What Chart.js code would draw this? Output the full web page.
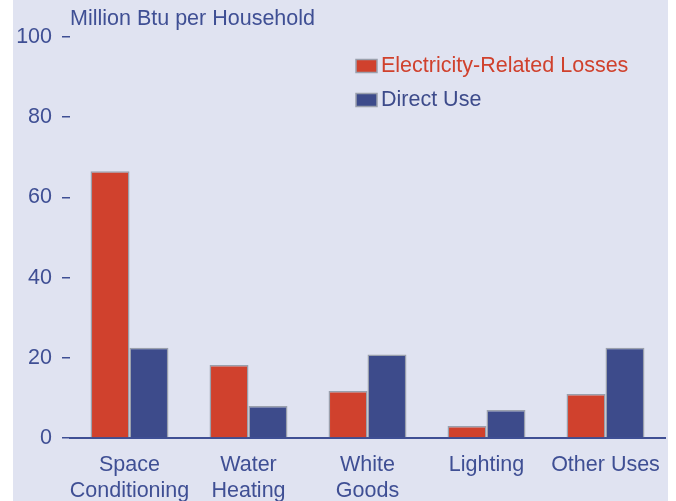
<!DOCTYPE html>
<html>
<head>
<meta charset="utf-8">
<script src="https://cdn.jsdelivr.net/npm/chart.js@4/dist/chart.umd.min.js"></script>
<style>
    html, body { margin: 0; padding: 0; background: #ffffff; }
    #wrap { width: 676px; height: 501px; position: relative; }
</style>
</head>
<body>
<div id="wrap"><canvas id="endUse"></canvas></div>
<script>
const categories = [['Space', 'Conditioning'], ['Water', 'Heating'], ['White', 'Goods'], 'Lighting', 'Other Uses'];
const lossesValues = [66.5, 18.2, 11.7, 3.0, 11.0];
const directValues = [22.5, 8.0, 20.8, 7.0, 22.5];
const seriesLabels = ['Electricity-Related Losses', 'Direct Use'];
const yTicks = [0, 20, 40, 60, 80, 100];

const red = '#d0412d';
const blue = '#3d4b8b';
const textBlue = '#3f4f94';
const edge = '#9aa0ad';
const font = { family: '"Liberation Sans", Arial, sans-serif', size: 21.5 };

// lavender panel, title and the stacked legend
const decor = {
    id: 'decor',
    beforeDraw(chart) {
        const ctx = chart.ctx;
        ctx.save();
        ctx.fillStyle = '#e0e3f1';
        ctx.fillRect(13, 0, 655, chart.height);
        ctx.restore();
    },
    afterDraw(chart) {
        const ctx = chart.ctx;
        const area = chart.chartArea;
        ctx.save();
        ctx.font = `${font.size}px ${font.family}`;
        ctx.textBaseline = 'middle';
        ctx.textAlign = 'left';
        ctx.fillStyle = textBlue;
        ctx.fillText('Million Btu per Household', area.left, 19);

        chart.data.datasets.forEach((ds, i) => {
            const x = area.left + 286;
            const y = 66 + i * 34;
            ctx.fillStyle = ds.backgroundColor;
            ctx.strokeStyle = edge;
            ctx.lineWidth = 1.5;
            ctx.fillRect(x, y - 6.5, 21, 13);
            ctx.strokeRect(x, y - 6.5, 21, 13);
            ctx.fillStyle = ds.backgroundColor;
            ctx.fillText(ds.label, x + 25, y);
        });
        ctx.restore();
    }
};

new Chart(document.getElementById('endUse'), {
    type: 'bar',
    data: {
        labels: categories,
        datasets: [{
            label: seriesLabels[0],
            data: lossesValues,
            backgroundColor: red,
            borderColor: edge,
            borderWidth: 1.5
        }, {
            label: seriesLabels[1],
            data: directValues,
            backgroundColor: blue,
            borderColor: edge,
            borderWidth: 1.5
        }]
    },
    options: {
        responsive: true,
        maintainAspectRatio: false,
        animation: false,
        layout: { padding: { top: 37, right: 11, left: 0, bottom: 0 } },
        datasets: { bar: { barPercentage: 1, categoryPercentage: 0.655 } },
        plugins: {
            legend: { display: false },
            tooltip: { enabled: false }
        },
        scales: {
            x: {
                grid: { display: false },
                border: { display: true, color: textBlue, width: 2 },
                ticks: { color: textBlue, font: font, padding: 6, maxRotation: 0, autoSkip: false },
                afterFit: (scale) => { scale.height = 63; }
            },
            y: {
                min: 0,
                max: 100,
                afterBuildTicks: (scale) => { scale.ticks = yTicks.map(v => ({ value: v })); },
                grid: { drawOnChartArea: false, drawTicks: true, tickLength: 8, color: textBlue, lineWidth: 1.5 },
                border: { display: false },
                ticks: { color: textBlue, font: font, padding: 10 },
                afterFit: (scale) => { scale.width = 70; }
            }
        }
    },
    plugins: [decor]
});
</script>
</body>
</html>
